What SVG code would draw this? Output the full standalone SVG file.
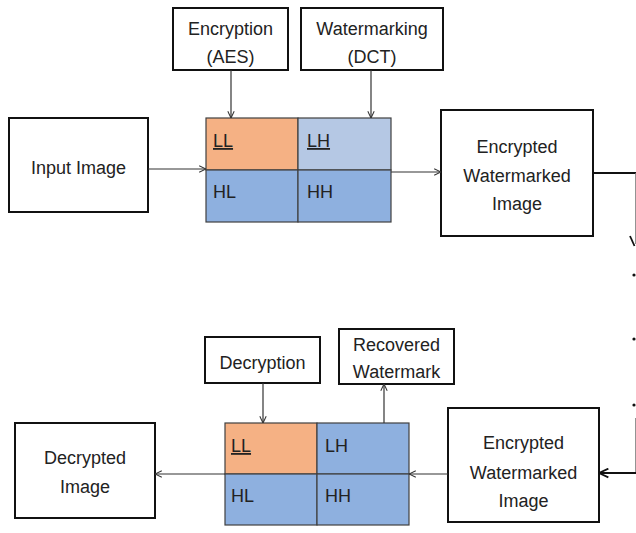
<svg xmlns="http://www.w3.org/2000/svg" width="636" height="533" viewBox="0 0 636 533">
  <style>
    .box { fill: #ffffff; stroke: #111111; stroke-width: 2; }
    .cell { stroke: #404040; stroke-width: 1.2; }
    .ll { fill: #f5b184; }
    .lhl { fill: #b5c8e4; }
    .blue { fill: #8eb0df; }
    .t { font-family: "Liberation Sans", Arial, sans-serif; font-size: 18px; fill: #222222; text-anchor: middle; }
    .c { font-family: "Liberation Sans", Arial, sans-serif; font-size: 18px; fill: #222222; }
    .u { text-decoration: underline; }
    .wire { fill: none; stroke: #333333; stroke-width: 1.2; }
    .thick { fill: none; stroke: #111111; stroke-width: 2.2; }
  </style>
  <defs>
    <marker id="open" viewBox="0 0 10 10" refX="9.5" refY="5" markerWidth="8" markerHeight="8" markerUnits="userSpaceOnUse" orient="auto">
      <polyline points="1,1 9.5,5 1,9" fill="none" stroke="#333333" stroke-width="1.3"/>
    </marker>
    <marker id="openBig" viewBox="0 0 10 10" refX="9.5" refY="5" markerWidth="11" markerHeight="11" markerUnits="userSpaceOnUse" orient="auto">
      <polyline points="1,1 9.5,5 1,9" fill="none" stroke="#111111" stroke-width="1.6"/>
    </marker>
  </defs>

  <rect width="636" height="533" fill="#ffffff"/>

  <!-- top row -->
  <g id="encryption-aes">
    <rect class="box" x="173" y="8" width="115" height="62"/>
    <text class="t" x="230.5" y="35">Encryption</text>
    <text class="t" x="230.5" y="63">(AES)</text>
  </g>
  <g id="watermarking-dct">
    <rect class="box" x="301" y="8" width="142" height="62"/>
    <text class="t" x="372" y="35">Watermarking</text>
    <text class="t" x="372" y="63">(DCT)</text>
  </g>
  <g id="input-image">
    <rect class="box" x="9" y="118" width="139" height="94"/>
    <text class="t" x="78.5" y="174">Input Image</text>
  </g>
  <g id="dwt-grid-top">
    <rect class="cell ll" x="206" y="118" width="92" height="52"/>
    <rect class="cell lhl" x="298" y="118" width="93" height="52"/>
    <rect class="cell blue" x="206" y="170" width="92" height="52"/>
    <rect class="cell blue" x="298" y="170" width="93" height="52"/>
    <text class="c u" x="213" y="147">LL</text>
    <text class="c u" x="307" y="147">LH</text>
    <text class="c" x="213" y="198">HL</text>
    <text class="c" x="307" y="198">HH</text>
  </g>
  <g id="encrypted-watermarked-top">
    <rect class="box" x="441" y="110" width="152" height="126"/>
    <text class="t" x="517" y="153">Encrypted</text>
    <text class="t" x="517" y="182">Watermarked</text>
    <text class="t" x="517" y="210">Image</text>
  </g>

  <!-- bottom row -->
  <g id="decryption">
    <rect class="box" x="205" y="337" width="115" height="46"/>
    <text class="t" x="262.5" y="369">Decryption</text>
  </g>
  <g id="recovered-watermark">
    <rect class="box" x="339" y="329" width="115" height="55"/>
    <text class="t" x="396.5" y="351">Recovered</text>
    <text class="t" x="396.5" y="378">Watermark</text>
  </g>
  <g id="decrypted-image">
    <rect class="box" x="15" y="423" width="140" height="95"/>
    <text class="t" x="85" y="464">Decrypted</text>
    <text class="t" x="85" y="493">Image</text>
  </g>
  <g id="dwt-grid-bottom">
    <rect class="cell ll" x="225" y="423" width="92" height="51"/>
    <rect class="cell blue" x="317" y="423" width="92" height="51"/>
    <rect class="cell blue" x="225" y="474" width="92" height="51"/>
    <rect class="cell blue" x="317" y="474" width="92" height="51"/>
    <text class="c u" x="231" y="452">LL</text>
    <text class="c" x="325" y="452">LH</text>
    <text class="c" x="231" y="502">HL</text>
    <text class="c" x="325" y="502">HH</text>
  </g>
  <g id="encrypted-watermarked-bottom">
    <rect class="box" x="448" y="408" width="151" height="114"/>
    <text class="t" x="523.5" y="449">Encrypted</text>
    <text class="t" x="523.5" y="479">Watermarked</text>
    <text class="t" x="523.5" y="507">Image</text>
  </g>

  <!-- connectors -->
  <g id="connectors">
    <line class="wire" x1="231" y1="70" x2="231" y2="118" marker-end="url(#open)"/>
    <line class="wire" x1="371" y1="70" x2="371" y2="118" marker-end="url(#open)"/>
    <line class="wire" x1="148" y1="169" x2="206" y2="169" marker-end="url(#open)"/>
    <line class="wire" x1="391" y1="172" x2="441" y2="172" marker-end="url(#open)"/>
    <line class="wire" x1="263" y1="383" x2="263" y2="423" marker-end="url(#open)"/>
    <line class="wire" x1="384" y1="423" x2="384" y2="384" marker-end="url(#open)"/>
    <line class="wire" x1="448" y1="474" x2="409" y2="474" marker-end="url(#open)"/>
    <line class="wire" x1="225" y1="474" x2="155" y2="474" marker-end="url(#open)"/>
    <!-- loop along the right edge -->
    <polyline class="thick" points="593,173 636,173"/>
    <line x1="635.5" y1="173" x2="635.5" y2="244" stroke="#777777" stroke-width="0.8"/>
    <polyline points="630,236 634.5,246" fill="none" stroke="#111111" stroke-width="1.8"/>
    <circle cx="634" cy="275" r="1.6" fill="#111111"/>
    <circle cx="634" cy="339" r="1.6" fill="#111111"/>
    <circle cx="634" cy="405" r="1.6" fill="#111111"/>
    <line x1="635.5" y1="418" x2="635.5" y2="473" stroke="#777777" stroke-width="0.8"/>
    <line class="thick" x1="636" y1="473" x2="599" y2="473" marker-end="url(#openBig)"/>
  </g>
</svg>
